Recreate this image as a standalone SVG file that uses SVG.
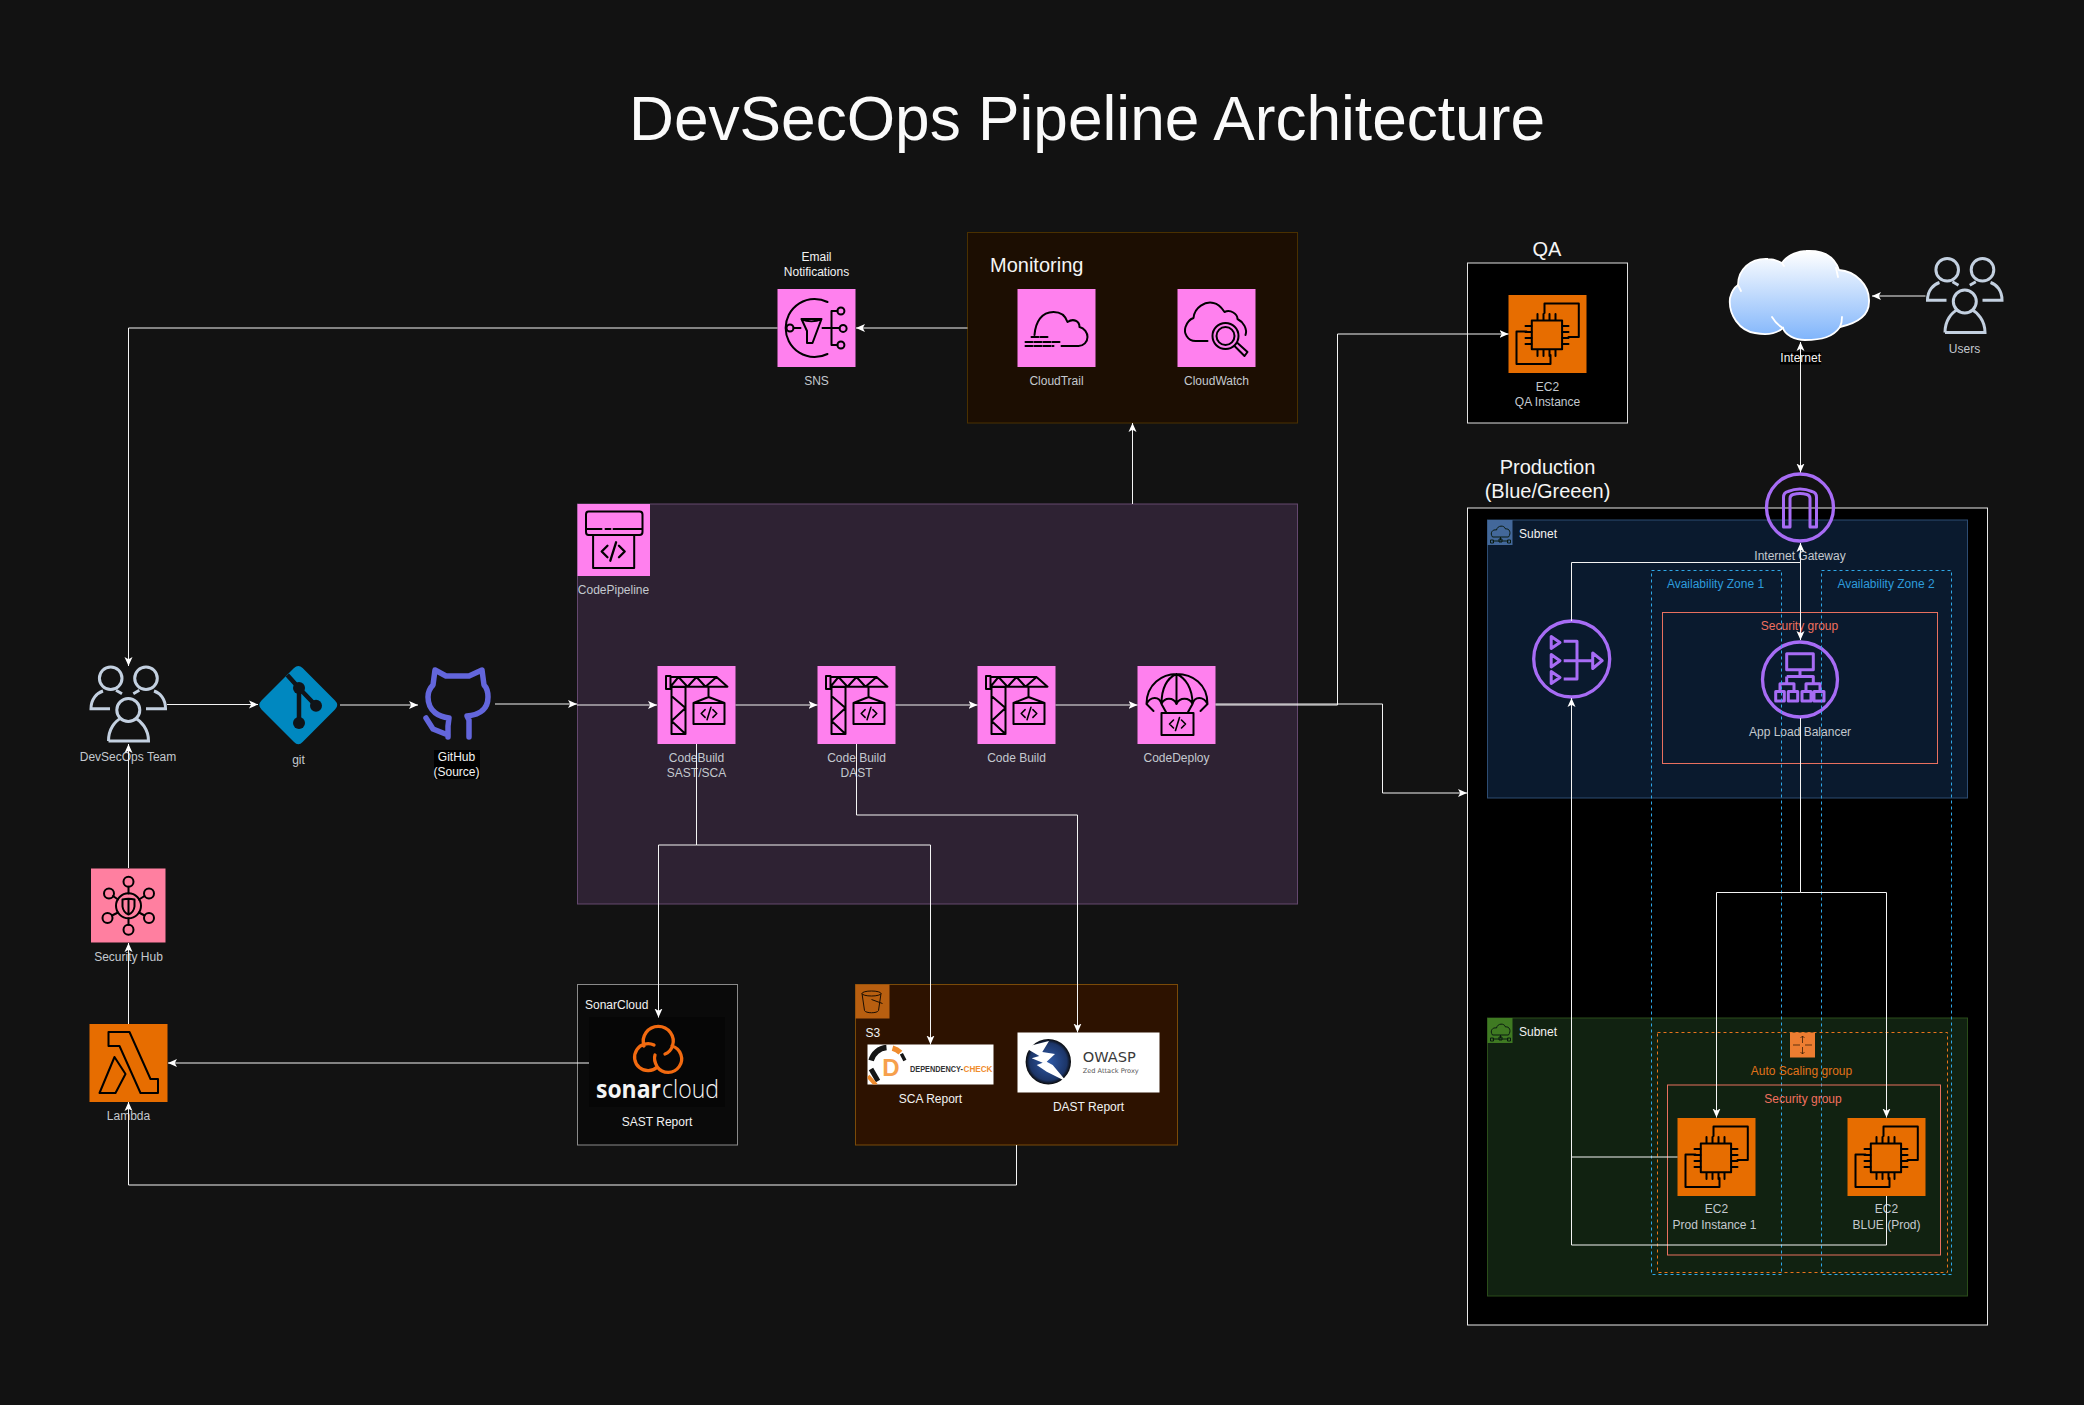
<svg xmlns="http://www.w3.org/2000/svg" width="2084" height="1405" viewBox="0 0 2084 1405">
<style>
text{font-family:"Liberation Sans",Arial,sans-serif;font-size:12px;fill:#c4c9cf}
.m{text-anchor:middle}
.w{fill:#f2f2f2}
.big{font-size:20px;fill:#f5f5f5}
.pink{fill:#ff80ee}
.org{fill:#e76d00}
.ic{fill:none;stroke:#000;stroke-width:2;stroke-linejoin:round;stroke-linecap:round}
.ppl{fill:none;stroke:#c3d0e0;stroke-width:3}
.pur{fill:none;stroke:#a76cf5;stroke-width:3.300}
.pt{fill:none;stroke:#a76cf5;stroke-width:3;stroke-linejoin:round}
.az{fill:none;stroke:#2ea8e8;stroke-width:1;stroke-dasharray:3 3}
.azt{fill:#2e9cdc}
.sg{fill:none;stroke:#e8705f;stroke-width:1}
.sgt{fill:#f0705f}
.c path{fill:none;stroke:#f4f4f4;stroke-width:1;marker-end:url(#a)}
.c path.n{marker-end:none}
.c path.b{marker-start:url(#a)}
</style>
<defs>
<marker id="a" markerUnits="userSpaceOnUse" markerWidth="10" markerHeight="9" refX="9" refY="4.5" orient="auto-start-reverse"><path d="M9,4.5 L0,0.5 L2.2,4.5 L0,8.5Z" fill="#fff"/></marker>
<linearGradient id="cl" x1="0" y1="0" x2="0" y2="1"><stop offset="0" stop-color="#ffffff"/><stop offset="1" stop-color="#7fb4fb"/></linearGradient>
<radialGradient id="zap" cx=".5" cy=".5" r=".5"><stop offset="0" stop-color="#2f5aa8"/><stop offset=".82" stop-color="#1c3568"/><stop offset="1" stop-color="#0a0a0a"/></radialGradient>
<g id="code" class="ic"><path d="M-5,-5 L-10,0 L-5,5 M5,-5 L10,0 L5,5 M2.5,-8 L-2.5,8"/></g>
<g id="crane"><g class="ic"><path d="M8.5,10 H13 V23 H8.5Z M13,11 H59 L70,20.7 H13 M13,20.7 L21,11 L30,20.7 L39,11 L48,20.7 L59,11 M14,21 H28 V68 H14Z M14,30 L28,42 L14,55 L28,68 M51,21 V31 M36,37 L51,31 L67,37 M36,37 H67 V58 H36Z"/></g><use href="#code" transform="translate(51.5 47.5) scale(.78)"/></g>
<g id="ec2" class="ic"><path d="M23.3,25.6 H53.6 V54.3 H23.3Z M36,18 V8.4 H70.3 V42 H60 M18,36.4 H8 V69 H42 V60"/><path d="M29,25 V19 M35,25 V19 M41,25 V19 M47,25 V19 M29,55 V61 M35,55 V61 M41,55 V61 M47,55 V61 M23,31 H17 M23,37 H17 M23,43 H17 M23,49 H17 M54,31 H60 M54,37 H60 M54,43 H60 M54,49 H60"/></g>
<g id="people" class="ppl"><circle cx="21.7" cy="12.3" r="11.3"/><circle cx="57" cy="12.3" r="11.3"/><circle cx="39.3" cy="44" r="11.500"/><path d="M19.500,75 H59.500 C59.500,63 52,55 46,52 M32.500,52 C26,55 19.500,63 19.500,75 M21,42.700 H2 C2,33 8,27 14,25 M57,42.700 H76.500 C76.500,33 71,27 65,25 M27,24.300 L33,27.700 M44.300,27.700 L50.300,24.300"/></g>
<g id="subnet"><path d="M5,17 C2,13 5,9 9,10 C10,5 17,5 18,9 C22,8 24,13 21,17Z M13,17 V20 M5,21 H21 M3,20 h3 v3 h-3z M11.5,19 h3 v3 h-3z M20,20 h3 v3 h-3z" fill="none" stroke="#0a1a10" stroke-width="1"/></g>
</defs>
<rect width="2084" height="1405" fill="#121212"/>
<text id="title" x="1087" y="140" class="m" style="font-size:62.200px;fill:#fafafa">DevSecOps Pipeline Architecture</text>

<g id="qa-group"><rect x="1467.5" y="263" width="160" height="160" fill="#000" stroke="#e0e0e0"/><text x="1547" y="256" class="m big">QA</text></g>
<g id="production-group"><rect x="1467.5" y="508" width="520" height="817" fill="#000" stroke="#e8e8e8"/><text x="1547.500" y="474" class="m big">Production</text><text x="1547.500" y="498" class="m big">(Blue/Greeen)</text></g>
<g id="subnet-blue"><rect x="1487.5" y="520" width="480" height="278" fill="#0a1a2e" stroke="#2d4c72"/><rect x="1487.5" y="520" width="25" height="25" fill="#43689a"/><use href="#subnet" x="1487.5" y="520"/><text x="1519" y="538" class="w">Subnet</text></g>
<g id="subnet-green"><rect x="1487.5" y="1018" width="480" height="278" fill="#112211" stroke="#2b4d1a"/><rect x="1487.5" y="1018" width="25" height="25" fill="#3f7a22"/><use href="#subnet" x="1487.5" y="1018"/><text x="1519" y="1036" class="w">Subnet</text></g>
<g id="monitoring"><rect x="967.5" y="232.5" width="330" height="190.500" fill="#1c0e02" stroke="#4a3000"/><text x="990" y="272" class="big">Monitoring</text></g>
<g id="codepipeline-group"><rect x="577.5" y="504" width="720" height="400" fill="#2e2233" stroke="#64486f"/></g>
<g id="sonarcloud"><rect x="577.5" y="984.5" width="160" height="160.500" fill="#0a0a0a" stroke="#8a8a8a"/><rect x="589" y="1017" width="136" height="90" fill="#060606"/><text x="585" y="1009" class="w">SonarCloud</text>
<g fill="none" stroke="#f26a10" stroke-width="3.300" stroke-linecap="round"><path d="M644,1046 A15,15 0 1 1 672.500,1046 C671,1050 668,1053 665,1054 M654,1045 A13.500,13.500 0 1 0 657.300,1067 C655,1063 654,1058 655,1055 M672,1046 A13.500,13.500 0 1 1 657.300,1067"/></g>
<text x="596" y="1098" style="font-family:'Open Sans','Liberation Sans',sans-serif;font-size:25px;font-weight:700;fill:#f4f4f4" textLength="65" lengthAdjust="spacingAndGlyphs">sonar</text><text x="662" y="1098" style="font-family:'Open Sans','Liberation Sans',sans-serif;font-size:25px;font-weight:300;fill:#f4f4f4" textLength="57" lengthAdjust="spacingAndGlyphs">cloud</text>
<text x="657" y="1126" class="m w">SAST Report</text></g>
<g id="s3"><rect x="855.5" y="984.500" width="322" height="160.500" fill="#2d1200" stroke="#7a4a08"/><rect x="855.500" y="984.500" width="34" height="34" fill="#b85f10"/><g transform="translate(855.5 984.5)" fill="none" stroke="#1a0d02" stroke-width="1"><ellipse cx="16" cy="9" rx="9.500" ry="2.500"/><path d="M6.500,9 L9,26 C10,29 22,29 23,26 L25.500,9 M16,15 L27,19"/></g><text x="865.500" y="1037" class="w">S3</text>
<rect x="867.500" y="1044.500" width="126" height="40" fill="#fff"/>
<svg x="867.500" y="1044.500" width="126" height="40" viewBox="867.500 1044.500 126 40">
<g fill="none" stroke-width="5.500"><path d="M871.100,1060.500 A17.500,17.500 0 0 1 886.500,1047.600" stroke="#151515"/><path d="M892.500,1048.100 A17.500,17.500 0 0 1 900.400,1052.600" stroke="#f08c2e"/><path d="M901.400,1053.800 L904.900,1060.500" stroke="#151515" stroke-width="3.500"/><path d="M871,1069 L878,1081" stroke="#151515" stroke-width="5"/><path d="M868,1076 L876,1085" stroke="#f08c2e" stroke-width="4"/></g></svg>
<text x="891" y="1075.700" class="m" style="font-size:24px;font-weight:700;fill:#f6a04c">D</text>
<text x="910" y="1071.700" style="font-size:8.400px;font-weight:700;fill:#333" textLength="53" lengthAdjust="spacingAndGlyphs">DEPENDENCY-</text><text x="963.500" y="1071.700" style="font-size:8.400px;font-weight:700;fill:#f08c2e" textLength="29" lengthAdjust="spacingAndGlyphs">CHECK</text>
<text x="930.500" y="1103" class="m w">SCA Report</text>
<rect x="1017.500" y="1032.500" width="142" height="60" fill="#fff"/>
<circle cx="1048.300" cy="1061.700" r="22.700" fill="url(#zap)"/><path d="M1024.300,1047.300 L1049,1041 L1042.300,1052 L1055,1054 L1046.700,1061.700 L1052.700,1065 L1066.700,1081.700 L1046.700,1071.700 L1036.700,1065 L1042.700,1062.700 L1031.700,1058.300 L1039.300,1056Z" fill="#fff"/>
<text x="1082.700" y="1062.300" style="font-size:14.600px;font-family:'DejaVu Sans',sans-serif;fill:#3a3a3a">OWASP</text><text x="1082.700" y="1073.300" style="font-size:6.600px;font-family:'DejaVu Sans',sans-serif;fill:#555">Zed Attack Proxy</text>
<text x="1088.500" y="1111" class="m w">DAST Report</text></g>

<g id="alb" transform="translate(1800 679.500)"><circle r="37.500" class="pur"/><path class="pt" d="M-13.300,-25.700 H13.300 V-9.700 H-13.300Z M0,-9.700 V-3 M-13.300,-3 H13.300 V4.300 M-13.300,-3 V4.300 M-20,12 V4.300 H-6 V12 M6,12 V4.300 H20 V12"/><path class="pt" d="M-24.300,12 h8.600 v9.600 h-8.600z M-11.700,12 h9.400 v9.600 h-9.400z M2,12 h9 v9.600 h-9z M14,12 h10 v9.600 h-10z" stroke-width="2.600"/><text y="56" class="m">App Load Balancer</text></g>

<g id="az1"><rect x="1651.500" y="570.500" width="130" height="704" class="az"/><text x="1715.500" y="588" class="m azt">Availability Zone 1</text></g>
<g id="az2"><rect x="1821.500" y="570.500" width="130" height="704" class="az"/><text x="1886" y="588" class="m azt">Availability Zone 2</text></g>
<g id="sg-alb"><rect x="1662.500" y="612.500" width="275" height="151" class="sg"/><text x="1799.500" y="630" class="m sgt">Security group</text></g>
<g id="asg"><rect x="1657.500" y="1032.500" width="290" height="240" fill="none" stroke="#e8741c" stroke-dasharray="3 3"/><rect x="1790" y="1032.500" width="25" height="25" fill="#ed7d31"/><path d="M1802.500,1036 V1043 M1802.500,1047 V1054 M1793,1045 H1800 M1805,1045 H1812 M1800.500,1038 L1802.500,1036 L1804.500,1038 M1800.500,1052 L1802.500,1054 L1804.500,1052" fill="none" stroke="#3a2008" stroke-width=".8"/><text x="1801.500" y="1075" class="m" style="fill:#e0721a">Auto Scaling group</text></g>
<g id="sg-ec2"><rect x="1667.500" y="1085" width="273" height="170" class="sg" stroke-width="1.500"/><text x="1803" y="1103" class="m sgt">Security group</text></g>

<g id="sns" transform="translate(777.500 289)"><rect width="78" height="78" class="pink"/><g class="ic"><path d="M50,13 A29,29 0 1 0 50,65"/><circle cx="12.500" cy="39" r="3.500"/><path d="M16,39 H23 M24,30 H44 L35,54 H29.500 V42Z M24,30 C30,33 38,33 44,30 M45,39 H62 M54,22 V56 M54,22 H60 M54,56 H60"/><circle cx="63.400" cy="22" r="3.500"/><circle cx="65.600" cy="39.400" r="3.500"/><circle cx="63.400" cy="56" r="3.500"/></g><text x="39" y="96" class="m">SNS</text><text x="39" y="-28" class="m w">Email</text><text x="39" y="-13" class="m w">Notifications</text></g>
<g id="cloudtrail" transform="translate(1017.500 289)"><rect width="78" height="78" class="pink"/><g class="ic"><path d="M17,46 C18,33 24,23 36,23 C43,23 48,27 50,33 C56,29 62,32 62,38 C67,39 70,44 70,48 C70,53 66,57 61,57 H44"/><path d="M14,48 H32 M8,53 H44 M8,57 H36" stroke-dasharray="7 2"/></g><text x="39" y="96" class="m">CloudTrail</text></g>
<g id="cloudwatch" transform="translate(1177.500 289)"><rect width="78" height="78" class="pink"/><g class="ic"><path d="M30,52 H18 C10,52 6,44 8,38 C10,32 13,30 16,29 C17,18 28,12 36,14 C42,15 45,20 47,23 C53,20 60,25 60,30 C66,33 70,40 68,46"/><circle cx="48" cy="47" r="13"/><circle cx="48" cy="47" r="9"/><path d="M57,57 L67,67 L70,63 L60,54"/></g><text x="39" y="96" class="m">CloudWatch</text></g>
<g id="team" transform="translate(89 666)"><use href="#people"/><text x="39" y="95" class="m">DevSecOps Team</text></g>
<g id="git"><path d="M294,668 Q298.300,664 302.600,668 L335,700.500 Q339.500,705 335,709.500 L302.600,742 Q298.300,746.500 294,742 L261.500,709.500 Q257,705 261.500,700.500Z" fill="#0088c0"/><path d="M287.300,675 L298.300,687.300 L316,705.700 M299,687.300 V723" fill="none" stroke="#101418" stroke-width="4.500"/><circle cx="299" cy="688" r="6" fill="#101418"/><circle cx="316" cy="705.700" r="6" fill="#101418"/><circle cx="299" cy="723" r="6" fill="#101418"/><text x="298.500" y="764" class="m">git</text></g>
<g id="github"><g transform="translate(424 668)"><path d="M24,69 V58 L25,50 C16,49 4,44 4,29 C4,24 6,20 9,17 L11,2 L22,8 H45 L58,2 L60,17 C63,20 64,24 64,29 C64,44 52,47 43,48 L45,52 V69 M2,50 L9,61 L24,67" fill="none" stroke="#6366dc" stroke-width="5.500" stroke-linecap="round" stroke-linejoin="round"/></g><rect x="434" y="750" width="46" height="29" fill="#000"/><text x="456.500" y="761" class="m w">GitHub</text><text x="456.500" y="776" class="m w">(Source)</text></g>
<g id="codepipeline" transform="translate(577.500 504)"><rect width="72.500" height="72" class="pink"/><g class="ic"><path d="M11,7.600 H62 Q65,7.600 65,10.600 V28 Q65,31 62,31 H11 Q8.500,31 8.500,28 V10.600 Q8.500,7.600 11,7.600Z M8.500,25 H24 M28,25 H33 M36,25 H65 M15.600,31 V64 H56.700 V31"/></g><use href="#code" transform="translate(35.700 47.500) scale(1.150)"/><text x="36" y="90" class="m">CodePipeline</text></g>
<g id="codebuild-sast" transform="translate(657.500 666)"><rect width="78" height="78" class="pink"/><use href="#crane"/><text x="39" y="96" class="m">CodeBuild</text><text x="39" y="111" class="m">SAST/SCA</text></g>
<g id="codebuild-dast" transform="translate(817.500 666)"><rect width="78" height="78" class="pink"/><use href="#crane"/><text x="39" y="96" class="m">Code Build</text><text x="39" y="111" class="m">DAST</text></g>
<g id="codebuild" transform="translate(977.500 666)"><rect width="78" height="78" class="pink"/><use href="#crane"/><text x="39" y="96" class="m">Code Build</text></g>
<g id="codedeploy" transform="translate(1137.500 666)"><rect width="78" height="78" class="pink"/><g class="ic"><path d="M9,38 C9,18 25,8 39,8 C55,8 70,18 70,38 L63,45 M9,38 L16,45 M9,38 C13,30 22,30 24,38 C27,31 36,31 39,38 C42,31 52,31 55,38 C57,30 66,30 70,38 M24,38 C24,22 30,12 39,8 C48,12 55,22 55,38 M39,8 V38 M24,38 L29,47 M55,38 L50,47 M24,47 H56 V69 H24Z"/></g><use href="#code" transform="translate(40 58) scale(.8)"/><text x="39" y="96" class="m">CodeDeploy</text></g>
<g id="security-hub" transform="translate(91 868.500)"><rect width="74.500" height="74" fill="#ff7fa0"/><g class="ic"><circle cx="37.500" cy="37.300" r="12.500"/><path d="M31.500,31 C35,30 40,30 43.500,31 V38 C43,42 40,45 37.500,46 C35,45 32,42 31.500,38Z M37.500,31 V45"/><circle cx="37.500" cy="13.300" r="5"/><circle cx="58" cy="25" r="5"/><circle cx="58" cy="49.500" r="5"/><circle cx="37.500" cy="61.300" r="5"/><circle cx="16.500" cy="49.500" r="5"/><circle cx="18" cy="25" r="5"/><path d="M37.500,18.300 V25 M37.500,50 V56.300 M53.500,27.500 L48,31 M53.500,47 L48,44 M21,47 L27,44 M22,27.500 L27,31"/></g><text x="37.500" y="92" class="m">Security Hub</text></g>
<g id="lambda" transform="translate(89.500 1024)"><rect width="78" height="78" class="org"/><g class="ic"><path d="M19,8 H40 L61,55 H68.500 V69 H51 L30,22 H19Z M25,33 L36,50 L26,69 H10Z"/></g><text x="39" y="96" class="m">Lambda</text></g>
<g id="ec2-qa" transform="translate(1508.500 295)"><rect width="78" height="78" class="org"/><use href="#ec2"/><text x="39" y="96" class="m">EC2</text><text x="39" y="111" class="m">QA Instance</text></g>
<g id="internet"><path d="M1730,298 C1732,290 1735,287 1738,285 C1738,270 1750,258 1768,259 C1773,259 1778,261 1782,263 C1788,254 1800,251 1806,251 C1825,250 1835,258 1839,270 C1855,271 1870,285 1869,302 C1869,315 1858,323 1840,327 C1833,337 1822,340 1805,340 C1795,340 1785,335 1783,328 C1775,335 1765,335 1755,333 C1740,331 1728,315 1730,298Z" fill="url(#cl)" stroke="#fff" stroke-width="1.800"/><path d="M1738,285 L1741,291 M1782,263 L1784,266 M1836,268 L1838,277 M1842,317 C1842,322 1841,325 1840,327 M1772,317 C1775,322 1779,326 1783,328" fill="none" stroke="#fff" stroke-width="1.800" stroke-linecap="round"/><rect x="1780" y="352" width="41" height="12.500" fill="#000"/><text x="1800.700" y="362" class="m w">Internet</text></g>
<g id="users" transform="translate(1925.500 257.500)"><use href="#people"/><text x="39" y="95.500" class="m">Users</text></g>
<g id="igw" transform="translate(1800 507.500)"><circle r="33.500" class="pur"/><path class="pt" d="M-16.500,19.500 V-10 Q-16.500,-15 -12,-16 Q0,-21 12,-16 Q16.500,-15 16.500,-10 V19.500 H10 V-9 Q10,-12 7,-13 Q0,-15 -7,-13 Q-10,-12 -10,-9 V19.500Z" stroke-width="2.500"/><text y="52" class="m">Internet Gateway</text></g>
<g id="nlb" transform="translate(1571.700 659)"><circle r="38" class="pur"/><path class="pt" d="M-20.500,-22.500 L-11.700,-16.500 L-20.500,-10.500Z M-20.500,-4.500 L-11.700,1.700 L-20.500,8Z M-20.500,12.500 L-11.700,18.500 L-20.500,24.500Z M-8,-17.700 H5.300 V20 H-8 M-8,1.700 H20 M21,-6 L30.500,1.700 L21,9.500Z"/></g>
<g id="ec2-prod-1" transform="translate(1677.500 1118)"><rect width="78" height="78" class="org"/><use href="#ec2"/><text x="39" y="95" class="m">EC2</text><text x="37" y="110.500" class="m">Prod Instance 1</text></g>
<g id="ec2-blue" transform="translate(1847.500 1118)"><rect width="78" height="78" class="org"/><use href="#ec2"/><text x="39" y="95" class="m">EC2</text><text x="39" y="110.500" class="m">BLUE (Prod)</text></g>

<g id="connectors" class="c">
<path d="M167,704.500 H258"/>
<path d="M340,705 H418"/>
<path d="M495,704 H577"/>
<path d="M577,705 H657"/>
<path d="M735.500,705 H817.500"/>
<path d="M895.500,705 H977.500"/>
<path d="M1055.500,705 H1137.500"/>
<path d="M1215.500,705 H1337.500 V334 H1508.500"/>
<path d="M1215.500,704 H1382.500 V793 H1467"/>
<path d="M1132.500,504 V423"/>
<path d="M967.500,328 H856"/>
<path d="M777.500,328 H128.500 V666"/>
<path d="M696.500,744 V845 H658.500 V1017.500"/>
<path d="M696.500,845 H930.500 V1044.500"/>
<path d="M856.500,744 V815 H1077.500 V1032.500"/>
<path d="M589,1063 H168"/>
<path d="M1016.500,1145 V1185 H128.500 V1102"/>
<path d="M128.500,1024 V943"/>
<path d="M128.500,868 V744"/>
<path d="M1925.500,296 H1872"/>
<path class="b" d="M1800.500,342 V472.500"/>
<path class="b" d="M1800.500,543 V640"/>
<path class="n" d="M1571.500,621 V562.500 H1800.500"/>
<path d="M1800.500,718 V892.500 H1716.500 V1117.500"/>
<path d="M1800.500,892.500 H1886.500 V1117.500"/>
<path d="M1677.500,1157 H1571.500 V698"/>
<path class="n" d="M1886.500,1196 V1245 H1571.500 V1157"/>
</g>
</svg>
